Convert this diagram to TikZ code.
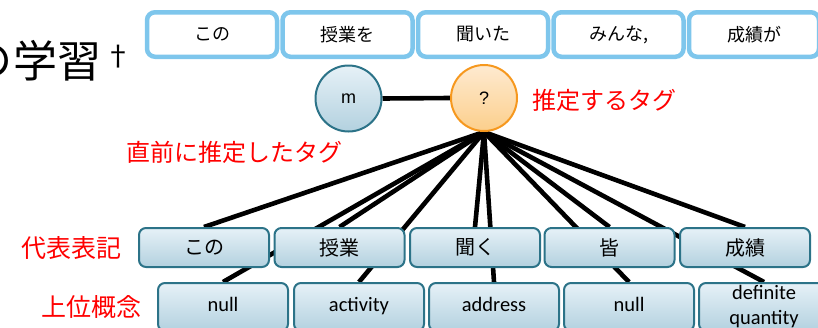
\documentclass[tikz,border=0pt]{standalone}
\usepackage{fontspec}
\setmainfont{Noto Sans CJK JP}
\newfontfamily\calfont{Carlito}
\newfontfamily\arialfont{Liberation Sans}
\usetikzlibrary{backgrounds}
\definecolor{topblue}{HTML}{7EC6EC}
\definecolor{tealb}{HTML}{2C7388}
\definecolor{boxtop}{HTML}{E6F1F7}
\definecolor{boxbot}{HTML}{B3D1DF}
\definecolor{orgb}{HTML}{F6981E}
\definecolor{orgtop}{HTML}{FEEAD0}
\definecolor{orgbot}{HTML}{FCCF8C}
\definecolor{lblred}{HTML}{FF0000}
\tikzset{
  topbox/.style={draw=topblue, line width=4.5pt, rounded corners=8pt, fill=white,
    minimum width=130pt, minimum height=44.5pt, inner sep=0pt,
    font=\fontsize{18}{20}\selectfont},
  midbox/.style={draw=tealb, line width=2pt, rounded corners=7pt,
    top color=boxtop, bottom color=boxbot,
    minimum width=130pt, minimum height=39pt, inner sep=0pt,
    font=\fontsize{20}{22}\selectfont},
  lowbox/.style={draw=tealb, line width=2pt, rounded corners=7pt,
    top color=boxtop, bottom color=boxbot,
    minimum width=130pt, minimum height=48pt, inner sep=0pt, align=center,
    font=\calfont\fontsize{20.5}{25}\selectfont},
  onerow/.style={text height=14pt, text depth=4.5pt},
  mnode/.style={circle, draw=tealb, line width=2pt, top color=boxtop, bottom color=boxbot,
    minimum size=66pt, inner sep=0pt, font=\arialfont\fontsize{18}{20}\selectfont},
  qnode/.style={circle, draw=orgb, line width=2pt, top color=orgtop, bottom color=orgbot,
    minimum size=66pt, inner sep=0pt, font=\arialfont\fontsize{18}{20}\selectfont},
  redlbl/.style={text=lblred, inner sep=0pt, font=\fontsize{24}{28}\selectfont},
  link/.style={line width=4.6pt, black}
}
\begin{document}
\begin{tikzpicture}[x=1pt,y=-1pt]
\clip (0,0) rectangle (818,327);
\useasboundingbox (0,0) rectangle (818,327);
% title (partially cut)
\node[inner sep=0pt, anchor=west, font=\fontsize{44}{48}\selectfont] (title) at (13,61) {学習};
\node[inner sep=0pt, anchor=east, font=\fontsize{44}{48}\selectfont] (titleno) at (title.west) {の};
\node[inner sep=0pt, font=\fontsize{28}{30}\selectfont] (dagger) at (118,57) {†};
% top word boxes
\node[topbox] (w1) at (212,34.5) {この};
\node[topbox] (w2) at (347.5,34.5) {授業を};
\node[topbox] (w3) at (483,34.5) {聞いた};
\node[topbox] (w4) at (618.5,34.5) {みんな,};
\node[topbox] (w5) at (754,34.5) {成績が};
% circles
\node[mnode] (m) at (348.5,98.5) {m};
\node[qnode] (q) at (484,98) {?};
% middle boxes
\node[midbox] (r1) at (204,247.5) {この};
\node[midbox] (r2) at (339.5,247.5) {授業};
\node[midbox] (r3) at (475,247.5) {聞く};
\node[midbox] (r4) at (609.5,247.5) {皆};
\node[midbox] (r5) at (745,247.5) {成績};
% bottom boxes
\node[lowbox, onerow] (c1) at (223,307) {null};
\node[lowbox, onerow] (c2) at (359,307) {activity};
\node[lowbox, onerow] (c3) at (494,307) {address};
\node[lowbox, onerow] (c4) at (629,307) {null};
\node[lowbox] (c5) at (764,307) {definite\\quantity};
% labels
\node[redlbl, anchor=west] (lq) at (532,100) {推定するタグ};
\node[redlbl] (lm) at (234.5,152) {直前に推定したタグ};
\node[redlbl, font=\fontsize{25}{28}\selectfont] (lr) at (71,248) {代表表記};
\node[redlbl, font=\fontsize{25}{28}\selectfont] (lc) at (91.5,307) {上位概念};
% connectors
\begin{scope}[on background layer]
\draw[link] (m.east) -- (q.west);
\foreach \t in {r1,r2,r3,r4,r5,c1,c2,c3,c4,c5}{
  \draw[link] (q.south) -- (\t.north);
}
\end{scope}
\end{tikzpicture}
\end{document}
